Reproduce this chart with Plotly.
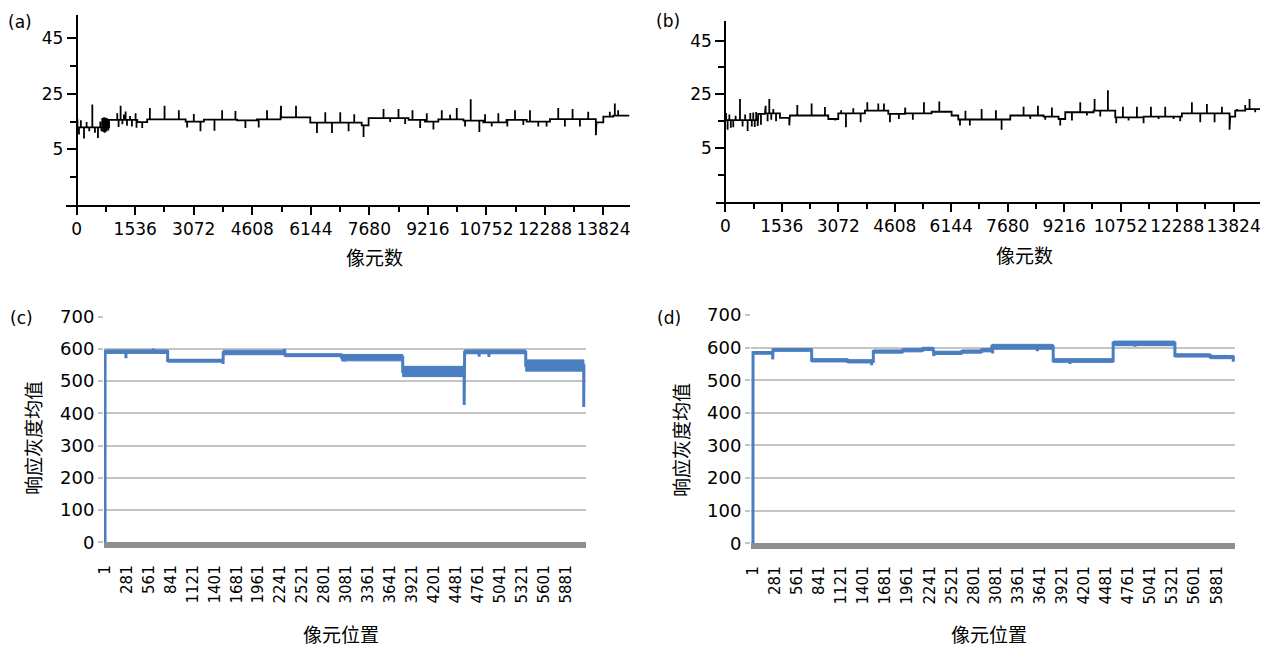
import plotly.graph_objects as go

W, H = 1270, 646

# ---- panel (a): step levels, spikes (pixel index vs response) ----
a_step_x = [0, 850, 1590, 1850, 2860, 3340, 4210, 4730, 5350, 6130, 7480, 7660,
            8710, 9140, 9490, 10150, 10670, 11280, 11810, 12420, 13640, 13820, 14080]
a_step_y = [12.9, 15.6, 14.8, 15.8, 15.0, 15.7, 15.4, 15.8, 16.5, 14.6, 13.6, 16.2,
            15.6, 15.0, 15.8, 15.3, 14.7, 15.6, 15.0, 15.9, 14.7, 16.8, 17.1]
a_end = 14500
a_spike_x = [20, 60, 110, 192, 260, 330, 411, 480, 559, 620, 650, 672, 700, 716, 740, 760,
             780, 803, 830, 1065, 1100, 1153, 1200, 1240, 1284, 1320, 1400, 1450, 1546,
             1570, 1720, 1921, 2306, 2681, 2899, 3074, 3249, 3616, 3817, 4166, 4428, 4777,
             4996, 5363, 5756, 6306, 6524, 6699, 6917, 7135, 7284, 7528, 8052, 8227, 8445,
             8620, 8812, 9013, 9188, 9362, 9581, 9799, 9974, 10192, 10340, 10567, 10716,
             10891, 11065, 11301, 11502, 11720, 11895, 12113, 12331, 12637, 12812, 13013,
             13205, 13423, 13624, 13991, 14122, 14209]
a_spike_y = [16.0, 10.3, 15.5, 8.9, 14.8, 11.5, 21.1, 11.0, 9.1, 15.0, 11.5, 16.3, 11.2, 16.5,
             11.0, 16.4, 11.4, 16.2, 11.8, 18.0, 13.0, 20.7, 14.0, 17.5, 18.6, 13.5, 17.0,
             13.2, 18.0, 12.8, 12.7, 19.9, 20.7, 19.1, 12.9, 17.7, 11.5, 11.7, 19.1, 18.8,
             12.7, 12.9, 19.1, 20.7, 20.7, 10.9, 18.3, 10.9, 18.3, 11.5, 17.6, 9.4, 19.5,
             14.8, 19.5, 14.1, 19.1, 12.7, 18.0, 12.1, 19.1, 17.4, 19.9, 13.2, 23.0, 11.2,
             17.6, 13.2, 18.0, 13.2, 19.1, 13.8, 19.1, 13.2, 13.2, 19.9, 13.2, 19.5, 13.2,
             18.5, 10.1, 18.5, 21.5, 19.1]

# ---- panel (b) ----
b_step_x = [0, 897, 1078, 1486, 1758, 2800, 3072, 3797, 4432, 4885, 5610, 6154, 6335,
            7749, 8655, 9063, 9244, 10015, 10604, 11374, 12416, 13730, 13866, 14138]
b_step_y = [15.4, 17.7, 17.9, 16.2, 17.1, 15.8, 17.9, 18.9, 17.7, 17.9, 18.5, 17.1, 15.6,
            17.1, 16.7, 15.8, 18.3, 18.9, 16.4, 16.7, 17.9, 16.7, 18.9, 19.5]
b_end = 14540
b_spike_x = [20, 63, 110, 150, 217, 280, 399, 470, 540, 607, 680, 720, 760, 800, 840, 880,
             970, 1097, 1150, 1196, 1250, 1305, 1380, 1740, 1958, 2347, 2710, 2990, 3150,
             3281, 3480, 3680, 3861, 4160, 4314, 4477, 4720, 4893, 5100, 5402, 5819, 6381,
             6530, 6650, 6970, 7359, 7513, 8111, 8293, 8501, 8700, 8882, 9108, 9426, 9652,
             9833, 10042, 10196, 10404, 10631, 10812, 10966, 11193, 11374, 11574, 11782,
             11963, 12190, 12371, 12688, 12915, 13096, 13305, 13504, 13712, 13912, 14138,
             14256, 14410]
b_spike_y = [18.0, 11.8, 17.5, 12.5, 12.7, 17.0, 23.2, 13.0, 17.5, 11.3, 18.0, 13.0, 18.2,
             12.8, 18.4, 13.2, 13.7, 20.7, 15.0, 23.2, 15.5, 19.5, 15.0, 13.4, 21.0, 21.6,
             20.3, 15.2, 19.1, 12.7, 19.8, 14.6, 22.0, 21.6, 21.6, 14.6, 15.8, 20.1, 15.5,
             22.0, 22.3, 13.4, 18.9, 13.4, 19.5, 19.1, 11.8, 20.4, 15.8, 20.7, 15.5, 20.1,
             13.4, 15.2, 22.0, 17.1, 23.2, 16.7, 26.5, 14.2, 20.4, 15.2, 20.4, 14.2, 20.4,
             15.8, 20.4, 15.8, 15.0, 22.0, 14.6, 21.4, 14.6, 20.4, 11.8, 19.5, 21.0, 23.2,
             18.3]

top_xticks = [0, 1536, 3072, 4608, 6144, 7680, 9216, 10752, 12288, 13824]
top_yticks = [5, 25, 45]
top_yminor = [-5, 15, 35]

# ---- panel (c): mean response grey level per pixel position ----
c_seg_start = [1, 2, 800, 1510, 2300, 3020, 3800, 4590, 5370]
c_seg_level = [0, 592, 564, 588, 580, 574, 530, 590, 549]
c_seg_low = [0, 586, 559, 582, 576, 563, 514, 585, 531]
c_seg_high = [0, 597, 568, 596, 585, 583, 546, 597, 566]
c_end = 6112
c_dip_x = [268, 616, 1507, 2292, 3056, 4584, 4775, 4900, 6110]
c_dip_y = [571, 601, 553, 600, 561, 426, 576, 575, 420]

# ---- panel (d) ----
d_seg_start = [1, 2, 255, 745, 1200, 1527, 1900, 2150, 2287, 2650, 2900, 3028, 3808,
               4568, 5351, 5800]
d_seg_level = [0, 584, 593, 561, 558, 588, 592, 596, 584, 588, 592, 602, 560, 613, 576, 571]
d_seg_low = [0, 580, 589, 556, 553, 583, 587, 591, 579, 583, 587, 595, 555, 606, 571, 566]
d_seg_high = [0, 588, 597, 566, 563, 593, 597, 601, 589, 593, 597, 610, 566, 620, 581, 576]
d_end = 6093
d_dip_x = [251, 1506, 2296, 3040, 3606, 4021, 4845, 6091]
d_dip_y = [564, 546, 574, 582, 589, 550, 603, 557]

bottom_xticks = [1, 281, 561, 841, 1121, 1401, 1681, 1961, 2241, 2521, 2801, 3081, 3361,
                 3641, 3921, 4201, 4481, 4761, 5041, 5321, 5601, 5881]
bottom_yticks = [0, 100, 200, 300, 400, 500, 600, 700]

NUM_FONT = "DejaVu Sans"
CJK_FONT = "Noto Sans CJK SC"
BLUE = "#4a7ec1"


def step_with_spikes(step_x, step_y, spike_x, spike_y, x_end):
    # walk the step segments and drop each spike in as a vertical excursion
    bounds = list(step_x[1:]) + [x_end]
    spikes = sorted(zip(spike_x, spike_y))
    xs, ys = [], []
    j = 0
    for x0, x1, lvl in zip(step_x, bounds, step_y):
        xs.append(x0)
        ys.append(lvl)
        while j < len(spikes) and spikes[j][0] < x1:
            sx, sy = spikes[j]
            xs += [sx, sx, sx]
            ys += [lvl, sy, lvl]
            j += 1
        xs.append(x1)
        ys.append(lvl)
    return xs, ys


def band_polys(starts, lows, highs, x_end):
    bounds = list(starts[1:]) + [x_end]
    xs, ys = [], []
    for x0, x1, lo, hi in zip(starts, bounds, lows, highs):
        if hi <= lo:
            continue
        xs += [x0, x1, x1, x0, x0, None]
        ys += [lo, lo, hi, hi, lo, None]
    return xs, ys


def xd(p0, p1):
    return [p0 / W, p1 / W]


def yd(top, bottom):
    return [1 - bottom / H, 1 - top / H]


fig = go.Figure()

# top panels
for xs_, ys_, sx, sy, xe, xa, ya in [
    (a_step_x, a_step_y, a_spike_x, a_spike_y, a_end, "x", "y"),
    (b_step_x, b_step_y, b_spike_x, b_spike_y, b_end, "x2", "y2"),
]:
    lx, ly = step_with_spikes(xs_, ys_, sx, sy, xe)
    fig.add_trace(go.Scatter(x=lx, y=ly, mode="lines", line=dict(color="black", width=1.8),
                             xaxis=xa, yaxis=ya, hoverinfo="skip"))

# bottom panels: noise band + mean line
for st, lv, lo, hi, xe, dx, dy, xa, ya in [
    (c_seg_start, c_seg_level, c_seg_low, c_seg_high, c_end, c_dip_x, c_dip_y, "x3", "y3"),
    (d_seg_start, d_seg_level, d_seg_low, d_seg_high, d_end, d_dip_x, d_dip_y, "x4", "y4"),
]:
    bx, by = band_polys(st, lo, hi, xe)
    fig.add_trace(go.Scatter(x=bx, y=by, mode="lines", fill="toself", fillcolor=BLUE,
                             line=dict(color=BLUE, width=1), xaxis=xa, yaxis=ya,
                             hoverinfo="skip"))
    lx, ly = step_with_spikes(st, lv, dx, dy, xe)
    fig.add_trace(go.Scatter(x=lx, y=ly, mode="lines", line=dict(color=BLUE, width=3),
                             xaxis=xa, yaxis=ya, hoverinfo="skip"))


def top_x(domain, rng, yref):
    mids = [(a + b) / 2 for a, b in zip(top_xticks[:-1], top_xticks[1:])]
    return dict(domain=domain, range=rng, anchor=yref, automargin=False, showline=True,
                linecolor="black", linewidth=2, ticks="outside", ticklen=8, tickwidth=1.5,
                tickcolor="black", tickmode="array", tickvals=top_xticks,
                ticktext=[str(v) for v in top_xticks], tickangle=0, showgrid=False,
                zeroline=False,
                minor=dict(ticks="outside", ticklen=5, tickwidth=1.5, tickcolor="black",
                           tickmode="array", tickvals=mids, showgrid=False),
                tickfont=dict(family=NUM_FONT, size=17, color="black"))


def top_y(domain, rng, pos):
    return dict(domain=domain, range=rng, anchor="free", position=pos, automargin=False,
                showline=True, linecolor="black", linewidth=2, ticks="outside", ticklen=9,
                tickwidth=1.5, tickcolor="black", tickmode="array", tickvals=top_yticks,
                ticktext=[str(v) for v in top_yticks], showgrid=False, zeroline=False,
                minor=dict(ticks="outside", ticklen=6, tickwidth=1.5, tickcolor="black",
                           tickmode="array", tickvals=top_yminor, showgrid=False),
                tickfont=dict(family=NUM_FONT, size=17, color="black"))


def bot_x(domain, rng, yref):
    return dict(domain=domain, range=rng, anchor=yref, automargin=False, showline=True,
                linecolor="#8e8e8e", linewidth=6, ticks="outside", ticklen=11,
                tickcolor="rgba(0,0,0,0)", tickmode="array", tickvals=bottom_xticks,
                ticktext=[str(v) for v in bottom_xticks], tickangle=-90, showgrid=False,
                zeroline=False, tickfont=dict(family=NUM_FONT, size=15, color="black"))


def bot_y(domain, xref):
    return dict(domain=domain, range=[0, 700], anchor=xref, automargin=False,
                showline=False, ticks="outside", ticklen=5, tickwidth=1.5,
                tickcolor="#c4c4c4", tickmode="array", tickvals=bottom_yticks,
                ticktext=[str(v) for v in bottom_yticks], showgrid=True,
                gridcolor="#c4c4c4", gridwidth=1.5, zeroline=False,
                tickfont=dict(family=NUM_FONT, size=18, color="black"))


fig.update_layout(
    width=W, height=H, margin=dict(l=0, r=0, t=0, b=0, autoexpand=False),
    paper_bgcolor="white", plot_bgcolor="white", showlegend=False,
    xaxis=top_x(xd(66, 630), [-280, 14520], "y"),
    yaxis=top_y(yd(15, 205), [-15, 53.3], 76.7 / W),
    xaxis2=top_x(xd(716, 1260), [-253, 14540], "y2"),
    yaxis2=top_y(yd(20.7, 201.7), [-15, 52.4], 725.3 / W),
    xaxis3=bot_x(xd(104, 586), [-12, 6139], "y3"),
    yaxis3=bot_y(yd(316.7, 542.3), "x3"),
    xaxis4=bot_x(xd(751, 1235), [-24, 6113], "y4"),
    yaxis4=bot_y(yd(315, 543.3), "x4"),
)

notes = [
    ("(a)", 20, 22, NUM_FONT, 17, 0),
    ("(b)", 668, 21, NUM_FONT, 17, 0),
    ("(c)", 21, 318, NUM_FONT, 17, 0),
    ("(d)", 669, 318, NUM_FONT, 17, 0),
    ("像元数", 375, 257, CJK_FONT, 19, 0),
    ("像元数", 1024, 254, CJK_FONT, 19, 0),
    ("像元位置", 341, 633, CJK_FONT, 19, 0),
    ("像元位置", 989, 633, CJK_FONT, 19, 0),
    ("响应灰度均值", 33, 438, CJK_FONT, 19, -90),
    ("响应灰度均值", 680, 440, CJK_FONT, 19, -90),
]
for text, px, py, fam, size, ang in notes:
    fig.add_annotation(text=text, x=px / W, y=1 - py / H, xref="paper", yref="paper",
                       showarrow=False, xanchor="center", yanchor="middle", textangle=ang,
                       font=dict(family=fam, size=size, color="black"))

# the page body has a default 8px margin; drop it so the figure sits at the corner
fig.write_html("out.html", config={"displayModeBar": False},
               post_script="document.body.style.margin='0';")
